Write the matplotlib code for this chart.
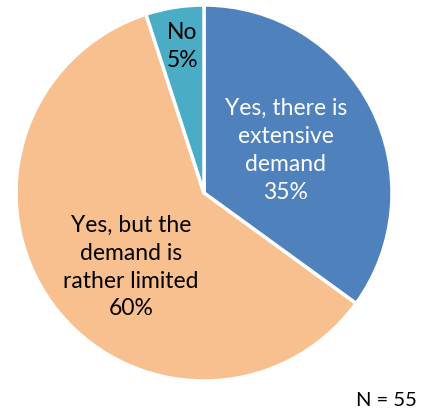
import matplotlib
matplotlib.use("Agg")
import matplotlib.pyplot as plt
import numpy as np

categories = ["Yes, there is\nextensive\ndemand", "Yes, but the\ndemand is\nrather limited", "No"]
values = [35, 60, 5]
colors = ["#4F81BD", "#F9C08F", "#4BACC6"]
text_colors = ["white", "black", "black"]
note = "N = 55"

plt.rcParams['font.family'] = ['Lato', 'DejaVu Sans']

fig = plt.figure(figsize=(4.32, 4.16), dpi=100)
ax = fig.add_axes([16/432, 35/416, 376/432, 376/416])
wedges, _ = ax.pie(values, colors=colors, startangle=90, counterclock=False,
                   wedgeprops=dict(edgecolor="white", linewidth=2.5))
ax.set_xlim(-1, 1)
ax.set_ylim(-1, 1)
ax.set_aspect("equal")

# label placement: (angle offset from wedge mid-angle, radial fraction)
placements = [(0.5, 0.49), (9.5, 0.553), (-0.5, 0.786)]
for w, cat, v, tc, (da, r) in zip(wedges, categories, values, text_colors, placements):
    ang = np.deg2rad((w.theta1 + w.theta2) / 2 + da)
    ax.text(r*np.cos(ang), r*np.sin(ang), f"{cat}\n{v}%", ha="center", va="center",
            color=tc, fontsize=16.5, linespacing=1.4)

fig.text(386/432, 1 - 400/416, note, ha="center", va="center", fontsize=14.5)
fig.savefig("out.png", dpi=100)
